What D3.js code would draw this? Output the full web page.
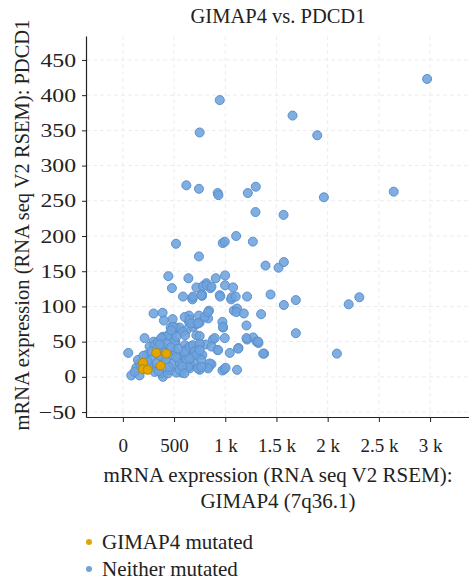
<!DOCTYPE html>
<html>
<head>
<meta charset="utf-8">
<script src="https://cdn.jsdelivr.net/npm/d3@7"></script>
<style>
  body { margin: 0; background: #fff; }
  svg text { font-family: "Liberation Serif", "DejaVu Serif", serif; fill: #222; }
</style>
</head>
<body>
<svg id="chart" width="469" height="586"></svg>
<script>
// GIMAP4 (x) vs PDCD1 (y), RNA seq V2 RSEM
var neitherX = [2971,946,750,1657,1898,620,743,926,933,1220,1298,1963,2645,
  1295,1569,519,975,995,1106,1269,743,1393,1520,1572,2309,2205,2090,1689,1689,1572,1442,
  444,640,907,998,816,718,783,855,998,1076,479,587,679,679,773,773,946,950,1057,1063,1102,1213,
  300,388,401,486,646,646,743,750,832,841,1083,1115,1109,1181,1350,972,978,1207,
  467,522,555,626,685,718,587,607,489,425,512,718,750,880,995,1213,1272,1305,1324,
  212,300,391,440,604,620,669,750,809,865,926,1129,1044,1379,
  685,669,750,776,571,701,659,652,750,838,865,972,992,1115,
  53,82,163,391,571,522,
  131,114,163,147,229,261,277,294,310,310,342,375,391,425,391,425,375,440,457,489,473,506,506,522,
  489,473,538,555,555,604,620,636,652,685,701,718,652,750,750,767,734,604,652,669,734,799,832,
  897,930,848,832,767,1125,1207,1321,1370,978,1003,685,767,816,865,
  250,280,330,350,360,410,450,470,520,540,580,600,360,240,200];
var neitherY = [423,393,347,371,343,272,267,261,258,261,270,255,263,
  234,230,189,190,192,200,192,171,158,155,163,113,103,33,109,62,102,117,
  143,140,140,144,133,127,129,126,130,127,126,114,112,110,117,115,116,114,110,113,114,114,
  90,91,80,82,87,78,87,77,83,94,94,97,92,90,89,78,70,73,
  70,70,70,67,71,75,64,59,62,57,50,59,58,53,55,53,56,50,48,
  55,50,57,59,45,39,43,46,46,43,38,41,34,33,
  33,28,32,31,28,21,16,12,10,14,18,9,11,10,
  34,2,2,0,6,6,
  13,7,19,24,31,43,26,14,7,45,50,55,43,47,26,24,5,5,10,19,31,38,50,57,
  71,66,26,19,10,36,24,14,43,45,36,31,26,47,38,24,12,85,81,76,76,85,92,
  55,38,19,12,14,40,55,50,33,71,13,114,116,130,128,
  15,36,20,8,30,35,14,42,28,40,15,5,46,22,30];
var mutatedX = [196,326,425,196,242,369];
var mutatedY = [20,34,33,11,10,16];

var xTicks = [0,500,1000,1500,2000,2500,3000];
var yTicks = [-50,0,50,100,150,200,250,300,350,400,450];
var legendLabels = ["GIMAP4 mutated", "Neither mutated"];

var blue = "#6fa3dc", orange = "#e3a600";
var serif = '"Liberation Serif", "DejaVu Serif", serif';

var svg = d3.select("#chart");

var x = d3.scaleLinear().domain([-360, 3380]).range([86, 469]);
var y = d3.scaleLinear().domain([-57, 484]).range([417, 36]);

// grid
svg.append("g").selectAll("line").data(xTicks).enter().append("line")
  .attr("x1", d => x(d)).attr("x2", d => x(d))
  .attr("y1", 36).attr("y2", 417)
  .attr("stroke", "#ececec").attr("stroke-dasharray", "4,3");
svg.append("g").selectAll("line").data(yTicks).enter().append("line")
  .attr("x1", 86).attr("x2", 469)
  .attr("y1", d => y(d)).attr("y2", d => y(d))
  .attr("stroke", "#ececec").attr("stroke-dasharray", "4,3");

// axes
var fmtX = function(d) { return d >= 1000 ? (d / 1000) + " k" : d; };
var xAxis = svg.append("g")
  .attr("transform", "translate(0,417)")
  .call(d3.axisBottom(x).tickValues(xTicks).tickFormat(fmtX).tickSize(5).tickSizeOuter(0));
xAxis.select(".domain").attr("stroke", "#222").attr("stroke-width", 1.2);
xAxis.selectAll(".tick line").attr("stroke", "#222");
xAxis.selectAll("text").style("font-size", "19px").style("font-family", serif)
  .attr("y", 22).attr("dy", "0.71em").attr("fill", "#222");

var yAxis = svg.append("g")
  .attr("transform", "translate(86,0)")
  .call(d3.axisLeft(y).tickValues(yTicks).tickFormat(d3.format("d")).tickSize(4).tickSizeOuter(0));
yAxis.select(".domain").attr("stroke", "#222").attr("stroke-width", 1.2);
yAxis.selectAll(".tick line").attr("stroke", "#222");
yAxis.selectAll("text").style("font-size", "19px").style("font-family", serif).attr("fill", "#222")
  .attr("x", -10 / 1.25).attr("transform", "scale(1.25,1)");

// points
svg.append("g").selectAll("circle").data(d3.range(neitherX.length)).enter().append("circle")
  .attr("cx", i => x(neitherX[i])).attr("cy", i => y(neitherY[i]))
  .attr("r", 4.5)
  .attr("fill", blue).attr("fill-opacity", 0.88)
  .attr("stroke", "#5990cf").attr("stroke-width", 1);
svg.append("g").selectAll("circle").data(d3.range(mutatedX.length)).enter().append("circle")
  .attr("cx", i => x(mutatedX[i])).attr("cy", i => y(mutatedY[i]))
  .attr("r", 4.5)
  .attr("fill", orange)
  .attr("stroke", "#b88600").attr("stroke-width", 1);

// titles
svg.append("text").attr("x", 278).attr("y", 23).attr("text-anchor", "middle")
  .style("font-size", "20.5px").style("font-family", serif).text("GIMAP4 vs. PDCD1");

svg.append("text").attr("x", 278).attr("y", 482).attr("text-anchor", "middle")
  .style("font-size", "21px").style("font-family", serif).text("mRNA expression (RNA seq V2 RSEM):");
svg.append("text").attr("x", 278).attr("y", 508).attr("text-anchor", "middle")
  .style("font-size", "21px").style("font-family", serif).text("GIMAP4 (7q36.1)");

svg.append("text")
  .attr("transform", "translate(29,225) rotate(-90)")
  .attr("text-anchor", "middle")
  .style("font-size", "20.5px").style("font-family", serif)
  .text("mRNA expression (RNA seq V2 RSEM): PDCD1");

// legend
var legend = svg.append("g").selectAll("g").data(legendLabels).enter().append("g")
  .attr("transform", (d, i) => "translate(89," + (542 + i * 27) + ")");
legend.append("circle").attr("r", 3).attr("fill", (d, i) => i == 0 ? orange : blue);
legend.append("text").attr("x", 13).attr("y", 6.5)
  .style("font-size", "21px").style("font-family", serif).text(d => d);
</script>
</body>
</html>
